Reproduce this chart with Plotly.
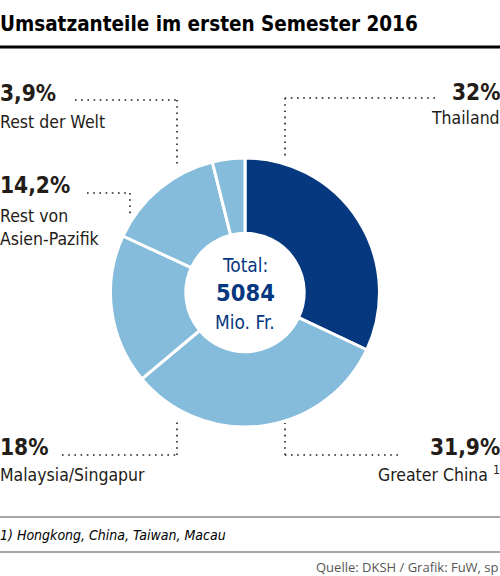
import plotly.graph_objects as go

# data, clockwise from 12 o'clock
regions = ["Thailand", "Greater China", "Malaysia/Singapur",
           "Rest von Asien-Pazifik", "Rest der Welt"]
label_texts = ["Thailand", "Greater China <sup>1</sup>", "Malaysia/Singapur",
               "Rest von<br>Asien-Pazifik", "Rest der Welt"]
shares = [32.0, 31.9, 18.0, 14.2, 3.9]
total = 5084

DARK = "#06387f"
LIGHT = "#85bcdb"
INK = "#231c17"
COND = "Liberation Sans Narrow, DejaVu Sans Condensed, Roboto, sans-serif"

W, H = 500, 576


def px(x):
    return x / W


def py(y):
    return 1 - y / H


def fmt(v):
    s = f"{v:.1f}".rstrip("0").rstrip(".")
    return s.replace(".", ",") + "%"


fig = go.Figure(go.Pie(
    labels=regions,
    values=shares,
    sort=False,
    direction="clockwise",
    rotation=0,
    hole=0.44,
    marker=dict(colors=[DARK] + [LIGHT] * 4, line=dict(color="white", width=3)),
    textinfo="none",
    hoverinfo="label+percent",
    showlegend=False,
    domain=dict(x=[px(110), px(380)], y=[py(427), py(158)]),
))

shapes = [
    dict(type="line", xref="paper", yref="paper", x0=0, x1=1, y0=py(47), y1=py(47),
         line=dict(color="black", width=3)),
    dict(type="line", xref="paper", yref="paper", x0=0, x1=1, y0=py(517), y1=py(517),
         line=dict(color="#8a8a8a", width=1.5)),
    dict(type="line", xref="paper", yref="paper", x0=0, x1=1, y0=py(552), y1=py(552),
         line=dict(color="#8a8a8a", width=1.5)),
]

# dotted leader lines (pixel paths)
leaders = [
    [(75, 100), (177, 100), (177, 167)],   # Rest der Welt
    [(87, 193), (130, 193), (130, 215)],   # Rest von Asien-Pazifik
    [(435, 98), (285, 98), (285, 157)],    # Thailand
    [(62, 455), (177, 455), (177, 418)],   # Malaysia/Singapur
    [(398, 455), (285, 455), (285, 423)],  # Greater China
]
for pts in leaders:
    for (xa, ya), (xb, yb) in zip(pts[:-1], pts[1:]):
        shapes.append(dict(type="line", xref="paper", yref="paper",
                           x0=px(xa), y0=py(ya), x1=px(xb), y1=py(yb),
                           line=dict(color=INK, width=1.6, dash="1.6px,4.6px")))

fig.update_layout(
    width=W, height=H,
    margin=dict(l=0, r=0, t=0, b=0),
    paper_bgcolor="white",
    plot_bgcolor="white",
    shapes=shapes,
)

ann = []


def add(text, x, y, size, anchor="left", bold=False, color=INK, family=COND, italic=False):
    ann.append(dict(
        text=text, x=px(x), y=py(y), xref="paper", yref="paper",
        xanchor=anchor, yanchor="middle", showarrow=False, align=anchor,
        font=dict(family=family, size=size, color=color,
                  weight="bold" if bold else "normal",
                  style="italic" if italic else "normal"),
    ))


add("Umsatzanteile im ersten Semester 2016", -2, 24, 20.5, bold=True, color="black")

# label placement: (x, pct y, name y, anchor)
pos = {
    "Thailand": (502, 92, 118, "right"),
    "Greater China": (502, 447, 474, "right"),
    "Malaysia/Singapur": (-2, 447, 475, "left"),
    "Rest von Asien-Pazifik": (-2, 185, 227, "left"),
    "Rest der Welt": (-2, 93, 122, "left"),
}
for name, txt, v in zip(regions, label_texts, shares):
    x, yp, yn, anc = pos[name]
    add(fmt(v), x, yp, 22.5, anchor=anc, bold=True)
    add(txt, x, yn, 17.5, anchor=anc)

add("Total:", 245, 265, 19, anchor="center", color=DARK)
add(f"{total}", 245, 293, 23.5, anchor="center", bold=True, color=DARK)
add("Mio. Fr.", 245, 322, 19, anchor="center", color=DARK)

add("1) Hongkong, China, Taiwan, Macau", -2, 535, 14, italic=True, color="black")
add("Quelle: DKSH / Grafik: FuW, sp", 501, 567, 13, anchor="right", color="#555555",
    family="Open Sans, sans-serif")

fig.update_layout(annotations=ann)
fig.write_html("out.html", config={"displayModeBar": False},
               post_script="document.body.style.margin='0';")
